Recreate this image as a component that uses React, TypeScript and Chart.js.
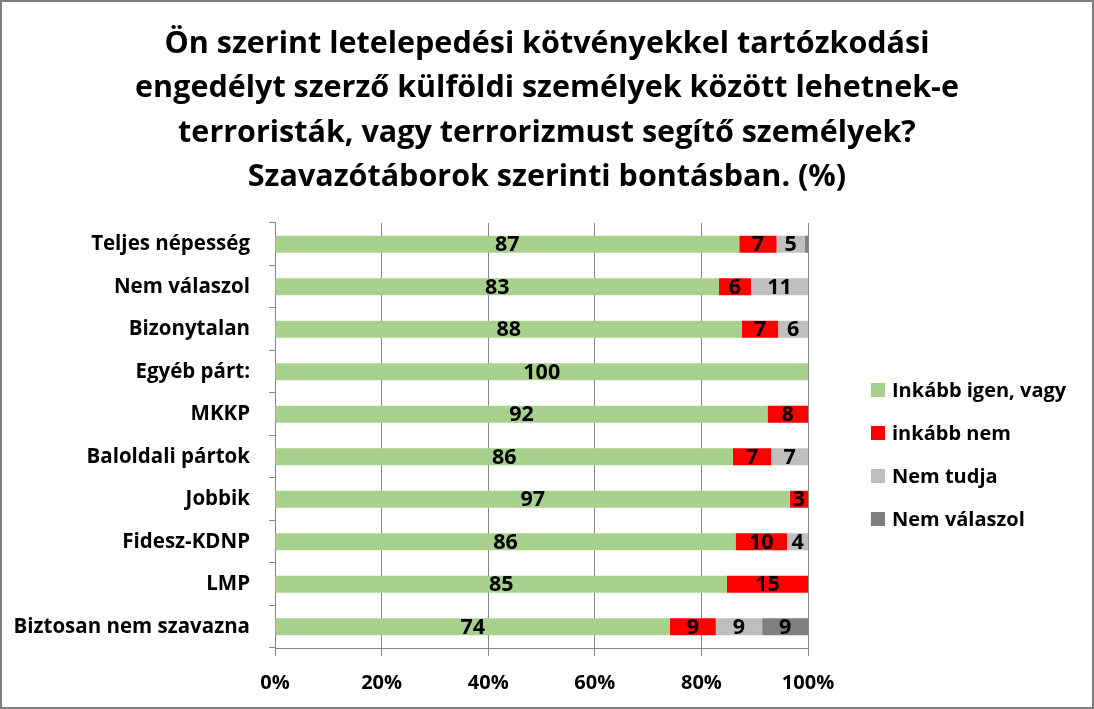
import React, { useEffect, useRef } from "react";
import { Chart, registerables } from "chart.js";

Chart.register(...registerables);

const TITLE_LINES = [
  "Ön szerint letelepedési kötvényekkel tartózkodási",
  "engedélyt szerző külföldi személyek között lehetnek-e",
  "terroristák, vagy terrorizmust segítő személyek?",
  "Szavazótáborok szerinti bontásban. (%)",
];

const CATEGORIES = [
  "Teljes népesség",
  "Nem válaszol",
  "Bizonytalan",
  "Egyéb párt:",
  "MKKP",
  "Baloldali pártok",
  "Jobbik",
  "Fidesz-KDNP",
  "LMP",
  "Biztosan nem szavazna",
];

const SERIES_NAMES = ["Inkább igen, vagy", "inkább nem", "Nem tudja", "Nem válaszol"];
const SERIES_COLORS = ["#A9D18E", "#FF0000", "#BFBFBF", "#7F7F7F"];

const IGEN = [87.1, 83.3, 87.6, 100, 92.4, 85.9, 96.6, 86.4, 84.8, 74.1];
const NEM = [7.0, 6.0, 6.8, 0, 7.6, 7.2, 3.4, 9.7, 15.2, 8.6];
const NEM_TUDJA = [5.3, 10.7, 5.6, 0, 0, 6.9, 0, 3.9, 0, 8.7];
const NEM_VALASZOL = [0.6, 0, 0, 0, 0, 0, 0, 0, 0, 8.6];

const X_TICKS = [0, 20, 40, 60, 80, 100];

const FONT = "'Open Sans', 'Noto Sans', sans-serif";

const valueLabels = {
  id: "valueLabels",
  afterDatasetsDraw(chart: any) {
    const ctx = chart.ctx;
    ctx.save();
    ctx.font = `bold 21.5px ${FONT}`;
    ctx.fillStyle = "#000";
    ctx.textAlign = "center";
    ctx.textBaseline = "middle";
    chart.data.datasets.forEach((ds: any, di: number) => {
      const meta = chart.getDatasetMeta(di);
      meta.data.forEach((el: any, i: number) => {
        const v = ds.data[i];
        if (v < 1.5) return;
        const p = el.getCenterPoint();
        ctx.fillText(String(Math.round(v)), p.x, p.y + 1);
      });
    });
    ctx.restore();
  },
};

export default function App() {
  const ref = useRef<HTMLCanvasElement>(null);

  useEffect(() => {
    if (!ref.current) return;
    const data = [IGEN, NEM, NEM_TUDJA, NEM_VALASZOL];
    const chart = new Chart(ref.current, {
      type: "bar",
      data: {
        labels: CATEGORIES,
        datasets: data.map((d, i) => ({
          label: SERIES_NAMES[i],
          data: d,
          backgroundColor: SERIES_COLORS[i],
          borderWidth: 0,
          barPercentage: 0.4,
          categoryPercentage: 1,
        })),
      },
      options: {
        indexAxis: "y",
        responsive: false,
        animation: false,
        layout: { padding: 0 },
        plugins: {
          legend: { display: false },
          tooltip: { enabled: false },
          title: {
            display: true,
            text: TITLE_LINES,
            color: "#000",
            font: { family: FONT, size: 30.5, weight: "bold", lineHeight: 1.459 },
            padding: { top: 22, bottom: 23 },
          },
        },
        scales: {
          x: {
            stacked: true,
            min: 0,
            max: 100,
            afterBuildTicks: (scale: any) => {
              scale.ticks = X_TICKS.map((v) => ({ value: v }));
            },
            afterFit: (scale: any) => {
              scale.height = 61;
            },
            grid: {
              color: "#868686",
              lineWidth: 1,
              drawTicks: true,
              tickLength: 8,
              tickColor: "#868686",
            },
            border: { display: true, color: "#868686", width: 1 },
            ticks: {
              color: "#000",
              padding: 15,
              font: { family: FONT, size: 20, weight: "bold" },
              callback: (v: any) => v + "%",
            },
          },
          y: {
            stacked: true,
            afterFit: (scale: any) => {
              scale.width = 275;
            },
            grid: {
              display: true,
              drawOnChartArea: false,
              drawTicks: true,
              tickLength: 6,
              tickColor: "#868686",
              offset: true,
            },
            border: { display: true, color: "#868686", width: 1 },
            ticks: {
              color: "#000",
              padding: 19,
              font: { family: FONT, size: 20.5, weight: "bold" },
            },
          },
          legendSpace: {
            type: "category",
            position: "right",
            display: true,
            labels: [""],
            grid: { display: false },
            border: { display: false },
            ticks: { display: false },
            afterFit: (scale: any) => {
              scale.width = 286;
            },
          },
        },
      },
      plugins: [valueLabels],
    });
    return () => chart.destroy();
  }, []);

  return (
    <div
      style={{
        position: "absolute",
        left: 0,
        top: 0,
        width: 1094,
        height: 709,
        background: "#fff",
        fontFamily: FONT,
      }}
    >
      <canvas ref={ref} width={1094} height={709} style={{ display: "block" }} />
      <div
        style={{
          position: "absolute",
          left: 871,
          top: 368,
          display: "flex",
          flexDirection: "column",
        }}
      >
        {SERIES_NAMES.map((n, i) => (
          <div
            key={n}
            style={{ display: "flex", alignItems: "center", height: 43 }}
          >
            <span
              style={{
                width: 14,
                height: 14,
                background: SERIES_COLORS[i],
                display: "inline-block",
                marginRight: 7,
              }}
            />
            <span style={{ fontSize: 20, fontWeight: "bold", color: "#000" }}>{n}</span>
          </div>
        ))}
      </div>
      <div
        style={{
          position: "absolute",
          left: 0,
          top: 0,
          width: 1094,
          height: 709,
          boxSizing: "border-box",
          border: "2px solid #808080",
          pointerEvents: "none",
        }}
      />
    </div>
  );
}
